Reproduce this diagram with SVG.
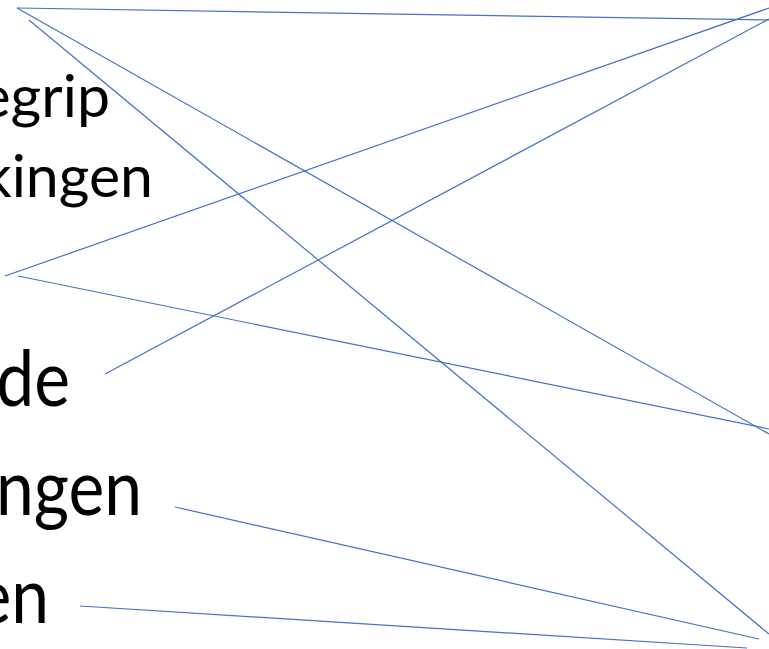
<svg xmlns="http://www.w3.org/2000/svg" width="769" height="649" viewBox="0 0 769 649">
<style>
.t{font-family:Lato,"Open Sans","Liberation Sans",sans-serif;fill:#000;text-anchor:end}
.s{font-size:59px}
.l{font-size:77px}
.c line{stroke:#4472C4;stroke-width:1.2;fill:none}
</style>
<rect width="769" height="649" fill="#fff"/>
<g id="label-begrip"><text class="t s" x="110" y="117">egrip</text></g>
<g id="label-kingen"><text class="t s" x="153" y="197">kingen</text></g>
<g id="label-de"><text class="t l" transform="scale(0.88 1)" x="79.5" y="406">de</text></g>
<g id="label-ngen"><text class="t l" transform="scale(0.88 1)" x="161.4" y="515">ngen</text></g>
<g id="label-en"><text class="t l" transform="scale(0.88 1)" x="55.7" y="623">en</text></g>
<g id="connectors" class="c">
<line x1="17" y1="8" x2="769" y2="20"/>
<line x1="17" y1="8" x2="769" y2="434"/>
<line x1="29" y1="20" x2="769" y2="634"/>
<line x1="5" y1="276" x2="769" y2="8"/>
<line x1="18" y1="276" x2="769" y2="429"/>
<line x1="105" y1="374" x2="769" y2="19"/>
<line x1="175" y1="507" x2="759" y2="639"/>
<line x1="80" y1="606" x2="747" y2="648"/>
</g>
</svg>
